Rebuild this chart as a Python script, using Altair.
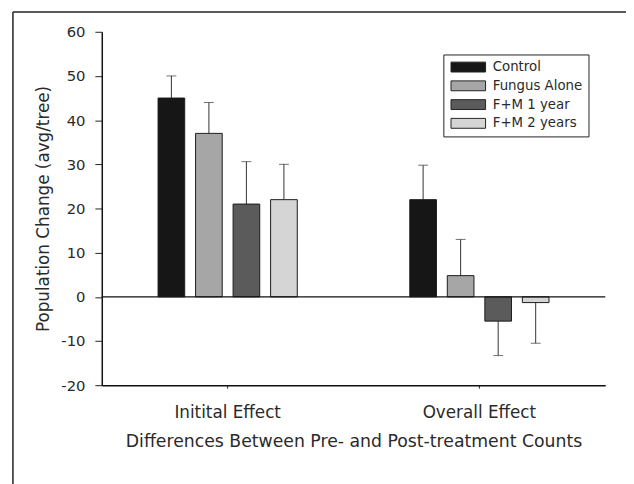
import altair as alt
import pandas as pd

groups = ["Initital Effect", "Overall Effect"]
treatments = ["Control", "Fungus Alone", "F+M 1 year", "F+M 2 years"]
initial_means = [45, 37, 21, 22]
initial_errors = [5, 7, 9.6, 8]
overall_means = [22, 4.8, -5.5, -1.3]
overall_errors = [7.8, 8.2, 7.8, 9.2]
fills = ["#161616", "#a6a6a6", "#5b5b5b", "#d5d5d5"]
y_ticks = [-20, -10, 0, 10, 20, 30, 40, 50, 60]

rows = []
for g, means, errs in zip(groups, [initial_means, overall_means], [initial_errors, overall_errors]):
    for t, m, e in zip(treatments, means, errs):
        rows.append({"group": g, "treatment": t, "mean": m,
                     "end": m + e if m >= 0 else m - e})
df = pd.DataFrame(rows)

FONT = "DejaVu Sans"
TXT = "#2a2a2a"

x = alt.X("group:N", sort=groups,
          scale=alt.Scale(paddingInner=0.447, paddingOuter=0.2235),
          axis=alt.Axis(title="Differences Between Pre- and Post-treatment Counts",
                        labelAngle=0, labelFontSize=17, labelFont=FONT, labelColor=TXT,
                        labelPadding=17, tickSize=3, tickColor="#222",
                        domainColor="#111", domainWidth=1.5,
                        titleFont=FONT, titleFontSize=17.5, titleFontWeight="normal",
                        titleColor=TXT, titleY=62, titleBaseline="alphabetic"))
xoff = alt.XOffset("treatment:N", sort=treatments,
                   scale=alt.Scale(paddingInner=0.2895, paddingOuter=0))
yscale = alt.Scale(domain=[-20, 60], nice=False, zero=False)
yaxis = alt.Axis(values=y_ticks, title="Population Change (avg/tree)",
                 labelExpr="datum.value + ''",
                 tickSize=7, tickColor="#222", labelPadding=10,
                 labelFontSize=15, labelFont=FONT, labelColor=TXT,
                 domainColor="#111", domainWidth=1.5, grid=False,
                 titleFont=FONT, titleFontSize=17, titleFontWeight="normal",
                 titleColor=TXT, titleX=-54, titleBaseline="alphabetic")

base = alt.Chart(df)

bars = base.mark_bar(stroke="#1a1a1a", strokeWidth=1).encode(
    x=x, xOffset=xoff,
    y=alt.Y("mean:Q", scale=yscale, axis=yaxis),
    fill=alt.Fill("treatment:N", sort=treatments,
                  scale=alt.Scale(domain=treatments, range=fills),
                  legend=alt.Legend(title=None, orient="none", legendX=346, legendY=23,
                                    strokeColor="#222", padding=6,
                                    symbolType="M-3.5,-1H3.5V1H-3.5Z", symbolSize=100,
                                    symbolOffset=12.5,
                                    symbolStrokeColor="#222", symbolStrokeWidth=1,
                                    symbolOpacity=1, labelFont=FONT, labelFontSize=13.5,
                                    labelColor=TXT, labelOffset=18, rowPadding=4)),
)

err = base.mark_rule(color="#333", strokeWidth=1).encode(
    x=x, xOffset=xoff, y=alt.Y("mean:Q", scale=yscale), y2="end:Q")
caps = base.mark_tick(color="#333", size=10, thickness=1).encode(
    x=x, xOffset=xoff, y=alt.Y("end:Q", scale=yscale))

zero = alt.Chart(pd.DataFrame({"z": [0]})).mark_rule(color="#111", strokeWidth=1.2).encode(
    y=alt.Y("z:Q", scale=yscale))

frame_left = alt.Chart(pd.DataFrame({"a": [0]})).mark_rule(color="#222", strokeWidth=1.5).encode(
    x=alt.value(-90), y=alt.value(-20), y2=alt.value(460))
frame_top = alt.Chart(pd.DataFrame({"a": [0]})).mark_rule(color="#222", strokeWidth=1.5).encode(
    x=alt.value(-90), x2=alt.value(540), y=alt.value(-20))

chart = alt.layer(err, caps, bars, zero, frame_left, frame_top).properties(
    width=510, height=358,
    autosize=alt.AutoSizeParams(type="none"),
    padding={"left": 95, "top": 21, "right": 21, "bottom": 97},
    background="white",
).configure_view(stroke=None)

chart.save("out.html", embed_options={"renderer": "svg", "actions": False})
